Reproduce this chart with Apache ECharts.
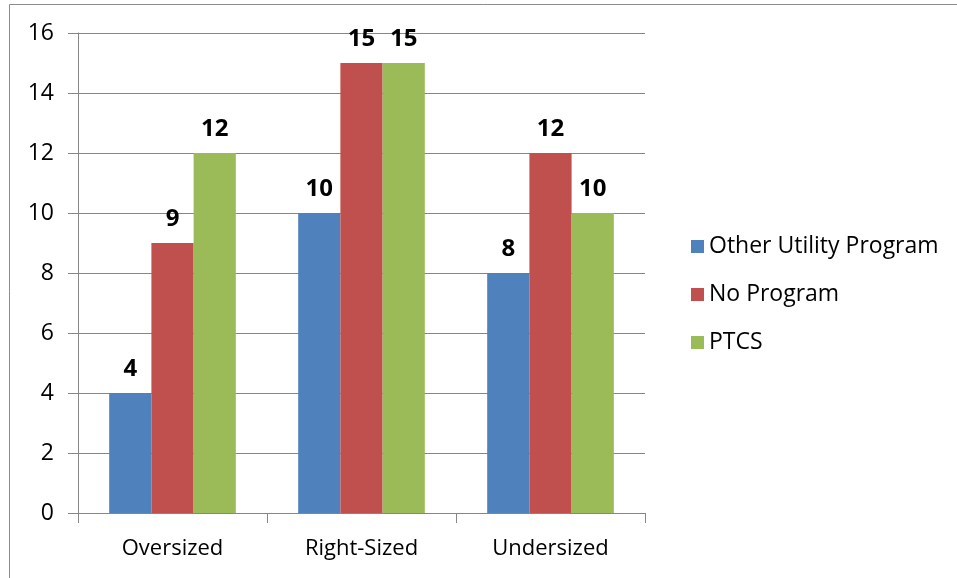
<!DOCTYPE html>
<html>
<head>
<meta charset="utf-8">
<script src="https://cdn.jsdelivr.net/npm/echarts@6/dist/echarts.min.js"></script>
<style>
  html, body { margin: 0; padding: 0; background: #fff; }
  #chart { width: 957px; height: 578px; }
</style>
</head>
<body>
<div id="chart"></div>
<script>
const categories = ['Oversized', 'Right-Sized', 'Undersized']
const otherUtility = [4, 10, 8]
const noProgram = [9, 15, 12]
const ptcs = [12, 15, 10]
const seriesNames = ['Other Utility Program', 'No Program', 'PTCS']
const yTicks = { min: 0, max: 16, interval: 2 }

const font = '"Open Sans", "Liberation Sans", sans-serif'

const makeSeries = (name, data, color) => ({
  name,
  type: 'bar',
  data,
  barGap: '0%',
  barCategoryGap: '33%',
  itemStyle: { color },
  label: {
    show: true,
    position: 'top',
    distance: 12,
    fontFamily: font,
    fontWeight: 'bold',
    fontSize: 24,
    color: '#000'
  }
})

const chart = echarts.init(document.getElementById('chart'))
chart.setOption({
  animation: false,
  graphic: [{
    type: 'rect',
    shape: { x: 9.5, y: 4.5, width: 1000, height: 1000 },
    style: { fill: 'none', stroke: '#8c8c8c', lineWidth: 1 }
  }],
  grid: { left: 78, right: 312, top: 33, bottom: 65, containLabel: false },
  legend: {
    orient: 'vertical',
    left: 686,
    top: 230,
    itemWidth: 13,
    itemHeight: 13,
    itemGap: 25,
    icon: 'rect',
    textStyle: { fontFamily: font, fontSize: 23, color: '#000' },
    data: seriesNames
  },
  xAxis: {
    type: 'category',
    data: categories,
    axisLine: { lineStyle: { color: '#868686' } },
    axisTick: { show: true, length: 10, alignWithLabel: false, lineStyle: { color: '#868686' } },
    axisLabel: { fontFamily: font, fontSize: 22, color: '#000', margin: 25 }
  },
  yAxis: {
    type: 'value',
    min: yTicks.min,
    max: yTicks.max,
    interval: yTicks.interval,
    axisLine: { show: true, lineStyle: { color: '#868686' } },
    axisTick: { show: true, length: 10, lineStyle: { color: '#868686' } },
    axisLabel: { fontFamily: font, fontSize: 23, color: '#000', margin: 24 },
    splitLine: { lineStyle: { color: '#868686' } }
  },
  series: [
    makeSeries(seriesNames[0], otherUtility, '#4F81BD'),
    makeSeries(seriesNames[1], noProgram, '#C0504D'),
    makeSeries(seriesNames[2], ptcs, '#9BBB59')
  ]
})
</script>
</body>
</html>
